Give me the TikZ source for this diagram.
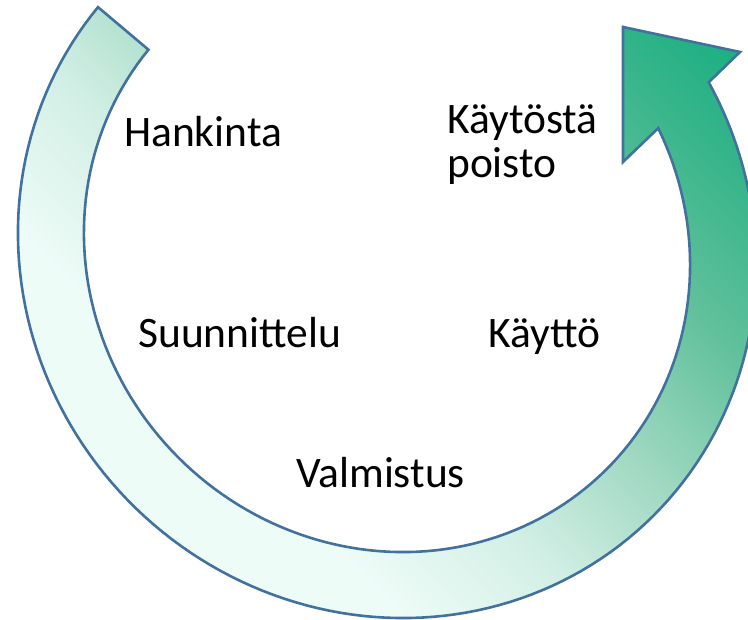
\documentclass[tikz,border=0pt]{standalone}
\usepackage{fontspec}
\setmainfont{Carlito}
\definecolor{edgeblue}{HTML}{41719C}
\definecolor{g0}{HTML}{EEFCF8}
\definecolor{g1}{HTML}{D2EFE5}
\definecolor{g2}{HTML}{9FD8C1}
\definecolor{g3}{HTML}{62C19C}
\definecolor{g4}{HTML}{34B489}
\definecolor{g5}{HTML}{16AF81}
\pgfdeclarehorizontalshading{cyclegrad}{100bp}{color(0bp)=(g0); color(31bp)=(g0); color(39.2bp)=(g1); color(47.3bp)=(g2); color(55.5bp)=(g3); color(63.7bp)=(g4); color(69bp)=(g5); color(100bp)=(g5)}
\newcommand{\cyclepath}{%
  plot[domain=185.3:433.1, samples=140, variable=\t] ({387+0.70711*(377*cos(\t)+361*sin(\t))},{371+0.70711*(361*sin(\t)-377*cos(\t))})
  -- (headR) -- (headTip) -- (headL)
  -- plot[domain=430:185.4, samples=140, variable=\t] ({387+0.70711*(311*cos(\t)+295*sin(\t))},{371+0.70711*(295*sin(\t)-311*cos(\t))})
  -- cycle}
\begin{document}
\begin{tikzpicture}[x=1pt,y=1pt,
  lbl/.style={font=\fontsize{43.5}{46}\selectfont, inner sep=0pt, anchor=base west, text=black}]
\useasboundingbox (0,0) rectangle (748,620);
\coordinate (headR) at (740,568);
\coordinate (headTip) at (623,593);
\coordinate (headL) at (623,458);
\begin{scope}
  \clip \cyclepath;
  \shade[shading=cyclegrad, shading angle=45] (0,0) rectangle (865,865);
\end{scope}
\draw[edgeblue, line width=2.6pt, line join=miter] \cyclepath;
\node[lbl] (hankinta) at (124,473) {Hankinta};
\node[lbl] (kaytostaA) at (447,486) {Käytöstä};
\node[lbl] (kaytostaB) at (447,442) {poisto};
\node[lbl] (suunnittelu) at (138,272) {Suunnittelu};
\node[lbl] (kaytto) at (488,272) {Käyttö};
\node[lbl] (valmistus) at (296,132) {Valmistus};
\end{tikzpicture}
\end{document}
